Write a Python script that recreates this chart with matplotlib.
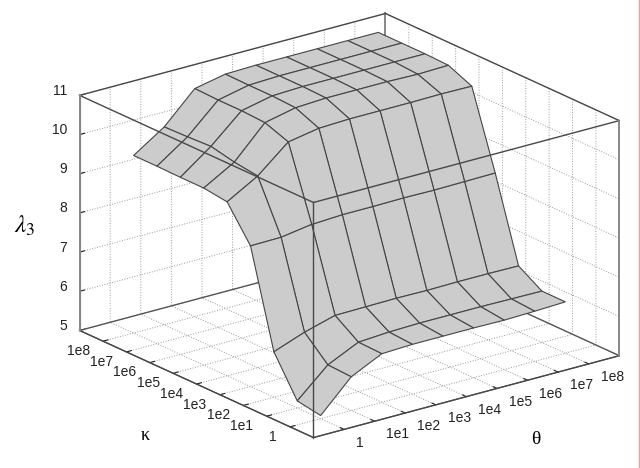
import matplotlib
matplotlib.use('Agg')
import matplotlib.pyplot as plt
from matplotlib.lines import Line2D
from mpl_toolkits.mplot3d import Axes3D
import numpy as np

plt.rcParams['font.family'] = ['Liberation Sans', 'DejaVu Sans']
plt.rcParams['font.size'] = 10
plt.rcParams['mathtext.fontset'] = 'stix'
plt.rcParams['grid.linestyle'] = ':'
plt.rcParams['grid.color'] = '#999999'
plt.rcParams['grid.linewidth'] = 0.7

# axis labels, log10 of the parameter used as position
theta_labels = ['1', '1e1', '1e2', '1e3', '1e4', '1e5', '1e6', '1e7', '1e8']
kappa_labels = ['1', '1e1', '1e2', '1e3', '1e4', '1e5', '1e6', '1e7', '1e8']
theta_pos = [0, 1, 2, 3, 4, 5, 6, 7, 8]
kappa_pos = [0, 1, 2, 3, 4, 5, 6, 7, 8]
lam_ticks = [5, 6, 7, 8, 9, 10, 11]

# lambda_3 values, one row per kappa, one column per theta
lam_k0 = [5.08, 5.86, 6.24, 6.27, 6.27, 6.27, 6.26, 6.28, 6.31]
lam_k1 = [5.18, 5.89, 6.26, 6.31, 6.33, 6.33, 6.33, 6.32, 6.31]
lam_k2 = [6.16, 6.45, 6.67, 6.68, 6.69, 6.68, 6.69, 6.69, 6.68]
lam_k3 = [8.59, 8.60, 8.72, 8.76, 8.76, 8.77, 8.76, 8.77, 8.78]
lam_k4 = [9.44, 9.89, 10.55, 10.69, 10.72, 10.72, 10.72, 10.73, 10.72]
lam_k5 = [9.52, 9.97, 10.77, 10.94, 10.98, 10.98, 10.98, 10.96, 10.98]
lam_k6 = [9.52, 10.10, 10.80, 10.97, 11.0, 11.0, 11.0, 11.0, 11.0]
lam_k7 = [9.53, 10.07, 10.80, 10.97, 11.0, 11.0, 11.0, 11.0, 11.0]
lam_k8 = [9.53, 10.05, 10.82, 10.98, 11.0, 11.0, 11.0, 11.0, 11.0]

lam = np.array([lam_k0, lam_k1, lam_k2, lam_k3, lam_k4, lam_k5, lam_k6, lam_k7, lam_k8])
X, Y = np.meshgrid(theta_pos, kappa_pos)

xmin, xmax = -1, 9
ymin, ymax = -1, 9
zmin, zmax = 5, 11

fig = plt.figure(figsize=(6.4, 4.68), dpi=100)
ax = fig.add_axes([50.6 / 640, -56.4 / 468, 582 / 640, 582 / 468], projection='3d')
ax.computed_zorder = False
ax.set_proj_type('ortho')
ax.view_init(elev=20.5, azim=-127.4)
ax.set_box_aspect((385, 385, 251))
ax.set_xlim(xmin, xmax, view_margin=0)
ax.set_ylim(ymin, ymax, view_margin=0)
ax.set_zlim(zmin, zmax, view_margin=0)

for a in (ax.xaxis, ax.yaxis, ax.zaxis):
    a.set_pane_color((1, 1, 1, 0))
    a.pane.set_edgecolor((1, 1, 1, 0))
    a.line.set_color('#555555')
    a._axinfo['tick']['inward_factor'] = 0
    a._axinfo['tick']['outward_factor'] = 0.2
    a._axinfo['tick']['linewidth'] = {True: 0.8, False: 0.8}

ax.set_xticks(theta_pos)
ax.set_xticklabels(theta_labels, ha='left', va='baseline')
ax.set_yticks(kappa_pos)
ax.set_yticklabels(kappa_labels, ha='right', va='baseline')
ax.set_zticks(lam_ticks)
ax.set_zticklabels([str(v) for v in lam_ticks], ha='right', va='baseline')
ax.tick_params(axis='both', colors='#222222', labelsize=10)
ax.tick_params(axis='x', pad=3)
ax.tick_params(axis='y', pad=1.5)
ax.tick_params(axis='z', pad=-3)
ax.grid(True)

ax.plot_surface(X, Y, lam, rstride=1, cstride=1, color='#cccccc', edgecolor='#454545',
                linewidth=0.8, shade=False, zorder=2)

# box edges: the ones at the back go behind the surface, the front ones over it
back = [((xmin, ymax, zmin), (xmax, ymax, zmin)), ((xmax, ymin, zmin), (xmax, ymax, zmin))]
back_v = [((xmax, ymax, zmin), (xmax, ymax, zmax))]
front = [((xmin, ymin, zmax), (xmax, ymin, zmax)), ((xmin, ymin, zmax), (xmin, ymax, zmax)),
         ((xmin, ymax, zmax), (xmax, ymax, zmax)), ((xmax, ymin, zmax), (xmax, ymax, zmax)),
         ((xmin, ymin, zmin), (xmin, ymin, zmax)),
         ((xmin, ymin, zmin), (xmax, ymin, zmin)), ((xmin, ymin, zmin), (xmin, ymax, zmin))]
side_v = [((xmin, ymax, zmin), (xmin, ymax, zmax)), ((xmax, ymin, zmin), (xmax, ymin, zmax))]
for p, q in back:
    ax.plot(*zip(p, q), color='#555555', lw=1, zorder=1)
for p, q in back_v:
    ax.plot(*zip(p, q), color='#888888', lw=1.4, zorder=1)
for p, q in front:
    ax.plot(*zip(p, q), color='#484848', lw=1, zorder=3)
for p, q in side_v:
    ax.plot(*zip(p, q), color='#888888', lw=1.4, zorder=3)

fig.text(25 / 640, 1 - 226 / 468, r'$\lambda_3$', fontsize=18, ha='center', va='center')
fig.text(145 / 640, 1 - 436 / 468, '\u03ba', fontsize=13, ha='center', va='center',
         family=['Liberation Serif', 'DejaVu Sans'])
fig.text(536 / 640, 1 - 439 / 468, '\u03b8', fontsize=14, ha='center', va='center',
         family=['Liberation Serif', 'DejaVu Sans'])

# thin pink edge down the right side of the picture
fig.add_artist(Line2D([638.5 / 640, 638.5 / 640], [0, 1], color='#dba6a8', lw=1))

fig.savefig('out.png', dpi=100)
